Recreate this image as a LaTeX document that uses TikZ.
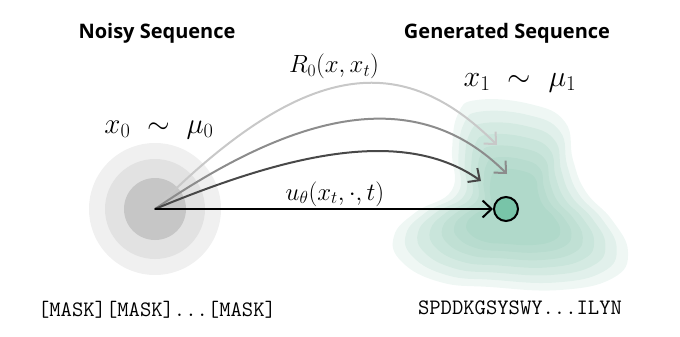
\RequirePackage{fix-cm}
\documentclass[tikz,border=0pt]{standalone}
\usepackage{fontspec}
\newfontfamily\headfont{Open Sans}
\usetikzlibrary{arrows.meta}
\definecolor{teal1}{RGB}{122,190,165}
\definecolor{dotteal}{RGB}{120,196,168}
\definecolor{gA}{RGB}{240,240,240}
\definecolor{gB}{RGB}{226,226,226}
\definecolor{gC}{RGB}{198,198,198}
\definecolor{cLight}{RGB}{200,200,200}
\definecolor{cMid}{RGB}{140,140,140}
\definecolor{cDark}{RGB}{72,72,72}
\tikzset{
  head/.style={font=\headfont\bfseries\fontsize{20}{24}\selectfont, anchor=center},
  mathlbl/.style={font=\fontsize{24.9}{28}\selectfont, anchor=base, inner sep=0pt},
  midlbl/.style={font=\fontsize{29}{34}\selectfont, anchor=base, inner sep=0pt},
  biglbl/.style={font=\fontsize{30}{35}\selectfont, anchor=base, inner sep=0pt},
  seqtxt/.style={font=\ttfamily\fontsize{22}{26}\selectfont, anchor=base, inner sep=0pt},
  chev/.style={-{Straight Barb[length=9pt,width=17pt,line width=2pt]}},
  flowarc/.style={chev, line width=2pt, line cap=round},
  blob/.style={fill=teal1, fill opacity=0.12, draw=none},
}
\def\blobshape{plot[smooth cycle, tension=0.75] coordinates {(477,100) (530,104) (565,122) (573,160) (586,192) (612,220) (628,252) (613,278) (560,290) (490,287) (440,282) (402,262) (394,236) (416,212) (452,190) (452,150) (458,114)}}
\begin{document}
\begin{tikzpicture}[x=1pt,y=-1pt]
\useasboundingbox (0,0) rectangle (680,337);
% source distribution
\fill[gA] (155,209) circle (66);
\fill[gB] (155,209) circle (50);
\fill[gC] (155,209) circle (31);
% target distribution blob
\foreach \s in {1,0.9,0.8,0.7,0.6,0.5,0.4}{
  \begin{scope}[shift={(515,215)}, scale=\s, shift={(-515,-215)}]
    \path[blob] \blobshape;
  \end{scope}
}
\coordinate (src) at (155,209);
\node[circle, draw=black, line width=2pt, fill=dotteal, minimum size=24pt, inner sep=0pt] (tgt) at (506,209) {};
\coordinate (eL) at (497,145);
\coordinate (eM) at (507,174);
\coordinate (eD) at (481,181);
% arcs
\draw[flowarc, draw=cLight] (src) .. controls (305,59) and (402,50) .. (eL);
\draw[flowarc, draw=cMid] (src) .. controls (297,112) and (416,83) .. (eM);
\draw[flowarc, draw=cDark] (src) .. controls (290,153) and (404,127) .. (eD);
\draw[chev, line width=2.6pt, draw=black] (src) -- (tgt.west);
% labels
\node[head] (h1) at (157,33) {Noisy Sequence};
\node[head] (h2) at (507,33) {Generated Sequence};
\node[midlbl] (x0) at (159,133) {$x_0\ \sim\ \mu_0$};
\node[biglbl] (x1) at (520,86) {$x_1\ \sim\ \mu_1$};
\node[mathlbl] (R) at (334,73) {$R_0(x,x_t)$};
\node[mathlbl] (u) at (335,200) {$u_\theta(x_t,\cdot,t)$};
\node[seqtxt] (s0) at (157,316) {[MASK][MASK]...[MASK]};
\node[seqtxt] (s1) at (520,314) {SPDDKGSYSWY...ILYN};
\end{tikzpicture}
\end{document}
